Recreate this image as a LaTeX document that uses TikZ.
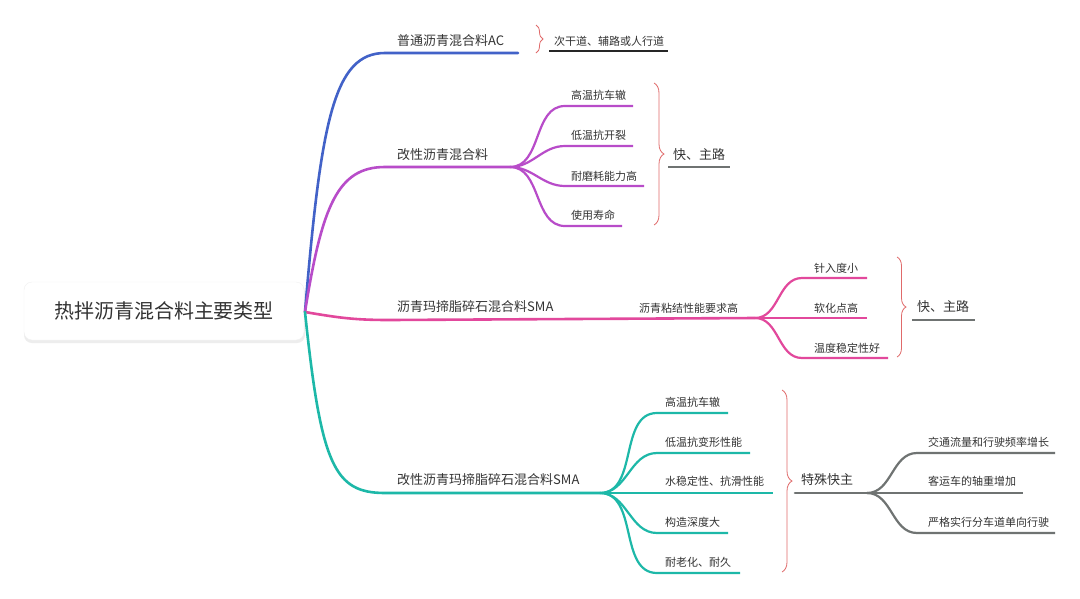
\documentclass[tikz,border=0pt]{standalone}
\usepackage{fontspec}
\setmainfont{Noto Sans CJK SC}
\usetikzlibrary{decorations.pathreplacing}
\definecolor{cblue}{HTML}{4262C8}
\definecolor{cpurple}{HTML}{B84CC9}
\definecolor{cpink}{HTML}{E2489C}
\definecolor{cteal}{HTML}{1DB8A8}
\definecolor{cgrey}{HTML}{6F7372}
\definecolor{cbrace}{HTML}{E06A6A}
\definecolor{ctext}{HTML}{333333}
\begin{document}
\begin{tikzpicture}[x=1pt,y=-1pt,
  maintxt/.style={anchor=west, inner sep=0pt, font=\fontsize{13}{15}\selectfont, text=ctext},
  subtxt/.style={anchor=west, inner sep=0pt, font=\fontsize{11}{13}\selectfont, text=ctext},
  trunk/.style={line width=2.6pt, line cap=round},
  twig/.style={line width=2.2pt},
  fan/.style={out=0, in=180},
  bracestyle/.style={draw=cbrace, line width=0.8pt, decorate, decoration={brace, amplitude=#1}},
  uline/.style={line width=2.2pt}]
\useasboundingbox (0,0) rectangle (1080,598);
\fill[white] (0,0) rectangle (1080,598);

% root
\fill[black!7, rounded corners=8pt] (24,284) rectangle (305,343);
\node[draw=black!6, fill=white, rounded corners=8pt, minimum width=280pt, minimum height=58pt,
      inner sep=0pt, font=\fontsize{20}{24}\selectfont, text=ctext] (root) at (164,311) {热拌沥青混合料主要类型};
\coordinate (o) at (305,312);

% ---------- branch 1 (blue)
\node[maintxt] (ac) at (397,41) {普通沥青混合料AC};
\coordinate (acS) at (385,53);
\coordinate (acE) at (518,53);
\draw[cblue, trunk] (o) .. controls (321,120) and (334,53) .. (acS) -- (acE);
\coordinate (b1t) at (536,25);
\coordinate (b1b) at (536,53);
\draw[bracestyle=7pt] (b1t) -- (b1b);
\node[subtxt] (acuse) at (554,41) {次干道、辅路或人行道};
\coordinate (u1s) at (549,51);
\coordinate (u1e) at (668,51);
\draw[black!85, uline] (u1s) -- (u1e);

% ---------- branch 2 (purple)
\node[maintxt] (mod) at (397,155) {改性沥青混合料};
\coordinate (modS) at (385,167);
\coordinate (modF) at (510,167);
\draw[cpurple, trunk] (o) .. controls (322,205) and (338,167) .. (modS) -- (modF);
\node[subtxt] (m1) at (571,95) {高温抗车辙};
\node[subtxt] (m2) at (571,135) {低温抗开裂};
\node[subtxt] (m3) at (571,176) {耐磨耗能力高};
\node[subtxt] (m4) at (571,215) {使用寿命};
\coordinate (m1s) at (565,106); \coordinate (m1e) at (633,106);
\coordinate (m2s) at (565,146); \coordinate (m2e) at (633,146);
\coordinate (m3s) at (565,186); \coordinate (m3e) at (644,186);
\coordinate (m4s) at (565,226); \coordinate (m4e) at (622,226);
\foreach \i in {1,2,3,4} {
  \draw[cpurple, twig] (modF) to[fan] (m\i s) -- (m\i e);
}
\coordinate (b2t) at (654,83);
\coordinate (b2b) at (654,225);
\draw[bracestyle=10pt] (b2t) -- (b2b);
\node[maintxt] (fast1) at (673,155) {快、主路};
\coordinate (u2s) at (668,167);
\coordinate (u2e) at (730,167);
\draw[cgrey, uline] (u2s) -- (u2e);

% ---------- branch 3 (pink)
\node[maintxt] (sma) at (397,307) {沥青玛揥脂碎石混合料SMA};
\coordinate (smaS) at (390,320);
\coordinate (smaF) at (755,318);
\node[subtxt] (bind) at (639,308) {沥青粘结性能要求高};
\draw[cpink, trunk] (o) .. controls (340,318) and (355,320) .. (smaS) -- (smaF);
\node[subtxt] (p1) at (814,268) {针入度小};
\node[subtxt] (p2) at (814,308) {软化点高};
\node[subtxt] (p3) at (814,348) {温度稳定性好};
\coordinate (p1s) at (802,278); \coordinate (p1e) at (867,278);
\coordinate (p2s) at (802,318); \coordinate (p2e) at (867,318);
\coordinate (p3s) at (802,358); \coordinate (p3e) at (888,358);
\foreach \i in {1,2,3} {
  \draw[cpink, twig] (smaF) to[fan] (p\i s) -- (p\i e);
}
\coordinate (b3t) at (897,257);
\coordinate (b3b) at (897,357);
\draw[bracestyle=9pt] (b3t) -- (b3b);
\node[maintxt] (fast2) at (917,307) {快、主路};
\coordinate (u3s) at (912,320);
\coordinate (u3e) at (975,320);
\draw[cgrey, uline] (u3s) -- (u3e);

% ---------- branch 4 (teal)
\node[maintxt] (msma) at (397,480) {改性沥青玛揥脂碎石混合料SMA};
\coordinate (msmaS) at (385,493);
\coordinate (msmaF) at (600,493);
\draw[cteal, trunk] (o) .. controls (321,465) and (334,493) .. (msmaS) -- (msmaF);
\node[subtxt] (t1) at (665,402) {高温抗车辙};
\node[subtxt] (t2) at (665,442) {低温抗变形性能};
\node[subtxt] (t3) at (665,481) {水稳定性、抗滑性能};
\node[subtxt] (t4) at (665,522) {构造深度大};
\node[subtxt] (t5) at (665,562) {耐老化、耐久};
\coordinate (t1s) at (657,413); \coordinate (t1e) at (728,413);
\coordinate (t2s) at (657,453); \coordinate (t2e) at (750,453);
\coordinate (t3s) at (657,493); \coordinate (t3e) at (773,493);
\coordinate (t4s) at (657,533); \coordinate (t4e) at (728,533);
\coordinate (t5s) at (657,573); \coordinate (t5e) at (740,573);
\foreach \i in {1,...,5} {
  \draw[cteal, twig] (msmaF) to[fan] (t\i s) -- (t\i e);
}
\coordinate (b4t) at (782,390);
\coordinate (b4b) at (782,572);
\draw[bracestyle=10pt] (b4t) -- (b4b);
\node[maintxt] (spec) at (801,480) {特殊快主};
\coordinate (specS) at (795,493);
\coordinate (specF) at (867,493);
\draw[cgrey, trunk] (specS) -- (specF);
\node[subtxt] (g1) at (928,442) {交通流量和行驶频率增长};
\node[subtxt] (g2) at (928,481) {客运车的轴重增加};
\node[subtxt] (g3) at (928,522) {严格实行分车道单向行驶};
\coordinate (g1s) at (917,453); \coordinate (g1e) at (1055,453);
\coordinate (g2s) at (917,493); \coordinate (g2e) at (1023,493);
\coordinate (g3s) at (917,533); \coordinate (g3e) at (1055,533);
\foreach \i in {1,2,3} {
  \draw[cgrey, twig] (specF) to[fan] (g\i s) -- (g\i e);
}
\end{tikzpicture}
\end{document}
